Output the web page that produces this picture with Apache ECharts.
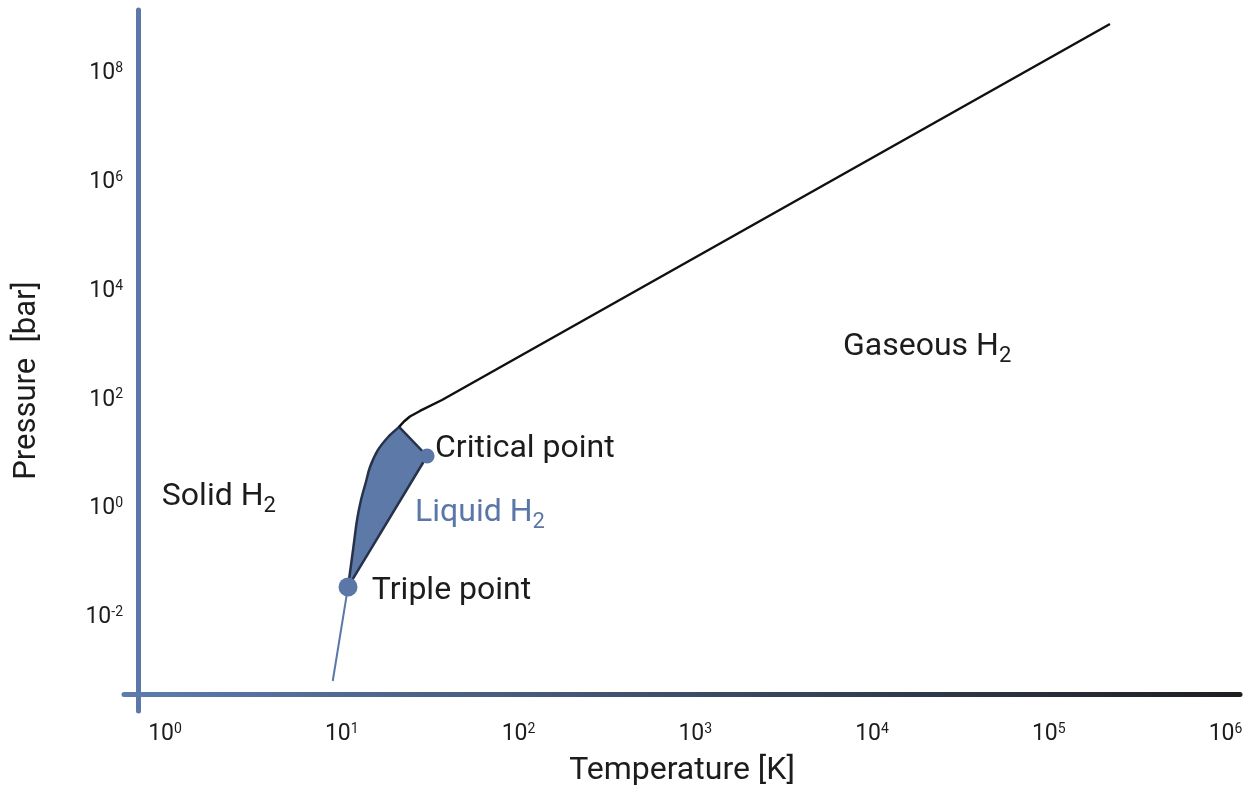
<!DOCTYPE html>
<html><head><meta charset="utf-8">
<script src="https://cdn.jsdelivr.net/npm/echarts@6/dist/echarts.min.js"></script>
<style>html,body{margin:0;padding:0;background:#fff}#c{width:1254px;height:793px}</style>
</head><body><div id="c"></div>
<script>
// tick exponents (labels 10^n)
const xTickExps = [0, 1, 2, 3, 4, 5, 6];
const yTickExps = [-2, 0, 2, 4, 6, 8];
// vapour / sublimation boundary (T [K], P [bar])
const boundaryT = [21.1, 22.5, 24.3, 27.7, 36.9, 2.22e5];
const boundaryP = [31.8, 40.1, 49.5, 62.5, 99.5, 8.13e8];
// liquid region outline: curved edge from triple point to top, then critical point
const liquidT = [10.85, 11.58, 12.2, 12.85, 13.7, 14.45, 16.0, 18.3, 21.1, 30.4];
const liquidP = [0.0364, 0.174, 0.62, 1.445, 3.1, 5.84, 11.9, 20.8, 31.8, 9.3];
// melting line below triple point
const meltT = [10.85, 8.89];
const meltP = [0.0364, 6.8e-4];
// special points
const pointNames = ['Triple point', 'Critical point'];
const pointT = [10.85, 30.4];
const pointP = [0.0364, 9.3];
const pointSizes = [19, 15];
// text annotations
const textLabels = ['Solid H|2', 'Liquid H|2', 'Critical point', 'Triple point', 'Gaseous H|2'];
const textT = [0.96, 26.0, 33.7, 14.8, 6855];
const textP = [1.63, 0.83, 12.6, 0.031, 920];
const textColors = ['#1c1c1c', '#5b77a8', '#1c1c1c', '#1c1c1c', '#1c1c1c'];

const L = Math.log10;
const pairs = (ts, ps) => ts.map((t, i) => [L(t), L(ps[i])]);
const FONT = 'Roboto';

const chart = echarts.init(document.getElementById('c'));
const expLabel = v => {
  const r = Math.round(v);
  if (Math.abs(v - r) > 1e-6) return '';
  return '{b|10}{s|' + (r < 0 ? '-' + (-r) : r) + '}';
};
const tickRich = {
  b: { fontSize: 23, fontFamily: FONT, color: '#1c1c1c', lineHeight: 24 },
  s: { fontSize: 14, fontFamily: FONT, color: '#1c1c1c', lineHeight: 14, verticalAlign: 'top' }
};

chart.setOption({
  animation: false,
  backgroundColor: '#fff',
  grid: { left: 124, right: 14, top: 10, bottom: 82, containLabel: false },
  xAxis: {
    type: 'value', min: -0.232, max: 6.082, offset: -16.5,
    axisLine: { show: true, onZero: false, lineStyle: { width: 5, color: new echarts.graphic.LinearGradient(0, 0, 1, 0, [
      { offset: 0, color: '#5d7cae' }, { offset: 1, color: '#1d1e21' }]) } },
    axisTick: { show: false }, splitLine: { show: false },
    axisLabel: { customValues: xTickExps, margin: 28, formatter: expLabel, rich: tickRich },
    name: 'Temperature [K]', nameLocation: 'middle', nameGap: 60,
    nameTextStyle: { fontSize: 32, fontFamily: FONT, color: '#1c1c1c' }
  },
  yAxis: {
    type: 'value', min: -3.719, max: 9.167, offset: -14,
    axisLine: { show: true, onZero: false, lineStyle: { width: 5, color: '#5b78a9' } },
    axisTick: { show: false }, splitLine: { show: false },
    axisLabel: { customValues: yTickExps, margin: 15, formatter: expLabel, rich: tickRich },
    name: 'Pressure  [bar]', nameLocation: 'middle', nameGap: 95,
    nameTextStyle: { fontSize: 31, fontFamily: FONT, color: '#1c1c1c', padding: [0, 40, 0, 0] }
  },
  series: [
    {
      type: 'custom', z: 2,
      data: [0],
      renderItem: (params, api) => {
        const pts = pairs(liquidT, liquidP).map(p => api.coord(p));
        const curve = pts.slice(0, pts.length - 1);
        const f = v => v.toFixed(2);
        let d = 'M' + f(curve[0][0]) + ' ' + f(curve[0][1]);
        for (let i = 0; i < curve.length - 1; i++) {
          const p0 = curve[Math.max(0, i - 1)], p1 = curve[i], p2 = curve[i + 1];
          const p3 = curve[Math.min(curve.length - 1, i + 2)];
          const c1 = [p1[0] + (p2[0] - p0[0]) / 6, p1[1] + (p2[1] - p0[1]) / 6];
          const c2 = [p2[0] - (p3[0] - p1[0]) / 6, p2[1] - (p3[1] - p1[1]) / 6];
          d += ' C' + f(c1[0]) + ' ' + f(c1[1]) + ' ' + f(c2[0]) + ' ' + f(c2[1]) + ' ' + f(p2[0]) + ' ' + f(p2[1]);
        }
        const last = pts[pts.length - 1];
        d += ' L' + f(last[0]) + ' ' + f(last[1]) + ' Z';
        return { type: 'path', shape: { pathData: d },
          style: { fill: '#5d79a8', stroke: '#27324a', lineWidth: 2.5, lineJoin: 'round' } };
      }
    },
    {
      type: 'line', z: 3, data: pairs(boundaryT, boundaryP), showSymbol: false, symbol: 'none',
      lineStyle: { color: '#111', width: 2.5 }
    },
    {
      type: 'line', z: 3, data: pairs(meltT, meltP), showSymbol: false, symbol: 'none',
      lineStyle: { color: '#5b77a8', width: 2 }
    },
    {
      type: 'scatter', z: 4,
      data: pointT.map((t, i) => ({ name: pointNames[i], value: [L(t), L(pointP[i])], symbolSize: pointSizes[i] })),
      itemStyle: { color: '#5b77a8', opacity: 1 }
    },
    {
      type: 'scatter', z: 5, symbolSize: 0, silent: true,
      itemStyle: { opacity: 1 },
      data: textT.map((t, i) => ({ value: [L(t), L(textP[i])], name: textLabels[i] })),
      label: {
        show: true, position: 'right', distance: 0,
        formatter: p => {
          const parts = p.name.split('|');
          const c = textColors[p.dataIndex] === '#5b77a8' ? 'bb' : 'b';
          return '{' + c + '|' + parts[0] + '}' + (parts[1] ? '{' + c + 's|' + parts[1] + '}' : '');
        },
        rich: {
          b: { fontSize: 32, fontFamily: FONT, color: '#1c1c1c', lineHeight: 40 },
          bs: { fontSize: 22, fontFamily: FONT, color: '#1c1c1c', lineHeight: 22, verticalAlign: 'bottom' },
          bb: { fontSize: 32, fontFamily: FONT, color: '#5b77a8', lineHeight: 40 },
          bbs: { fontSize: 22, fontFamily: FONT, color: '#5b77a8', lineHeight: 22, verticalAlign: 'bottom' }
        }
      }
    }
  ]
});
</script>
</body></html>
